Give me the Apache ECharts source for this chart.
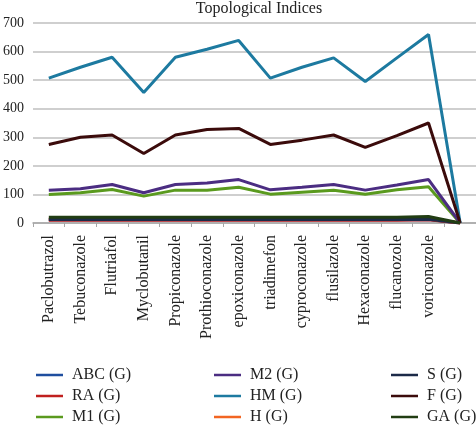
<!DOCTYPE html>
<html>
<head>
<meta charset="utf-8">
<script src="https://cdn.jsdelivr.net/npm/echarts@6/dist/echarts.min.js"></script>
<style>html,body{margin:0;padding:0;background:#fff}#c{width:476px;height:426px}</style>
</head>
<body>
<div id="c"></div>
<script>
const categories = ['Paclobutrazol','Tebuconazole','Flutriafol','Myclobutanil','Propiconazole','Prothioconazole','epoxiconazole','triadimefon','cyproconazole','flusilazole','Hexaconazole','flucanozole','voriconazole',''];
const ABC = [11,11,11,11,11,11,11,11,11,11,11,11,12,0];
const RA  = [10,10,10,10,10,10,10,10,10,10,10,10,11,0];
const M1  = [100,106,117,94,115,115,125,101,108,115,101,116,127,0];
const M2  = [115,120,135,106,135,140,152,116,125,135,115,133,152,0];
const HM  = [507,545,580,457,580,608,639,507,545,578,495,578,660,0];
const H   = [14,14,14,14,14,14,14,14,14,14,14,14,15,0];
const S   = [12,12,12,12,12,12,12,12,12,12,12,12,13,0];
const F   = [275,300,308,243,308,327,331,275,290,308,265,306,350,0];
const GA  = [20,20,20,20,20,20,20,20,20,20,20,20,23,0];
const yTicks = [0,100,200,300,400,500,600,700];

const seriesDefs = [
  ['ABC (G)', ABC, '#1f4e9f'],
  ['RA (G)', RA, '#c0201f'],
  ['M1 (G)', M1, '#5a9a1e'],
  ['M2 (G)', M2, '#4b2d82'],
  ['HM (G)', HM, '#1d7aa0'],
  ['H (G)', H, '#f26522'],
  ['S (G)', S, '#1c2a48'],
  ['F (G)', F, '#3b0b0b'],
  ['GA (G)', GA, '#213d13']
];
const font = 'Liberation Serif, Times New Roman, serif';
const chart = echarts.init(document.getElementById('c'));
const colLeft = [31, 209, 386];
const rowTop = [362, 383, 404];
const legends = seriesDefs.map(([n], i) => ({
  left: colLeft[Math.floor(i / 3)], top: rowTop[i % 3],
  itemWidth: 27, itemHeight: 16, itemGap: 0,
  icon: 'path://M0,7 L27,7 L27,9.5 L0,9.5 Z',
  data: [n],
  textStyle: {fontFamily: font, fontSize: 16, color: '#222', padding: [0, 0, 0, 4]}
}));
chart.setOption({
  animation: false,
  title: {text: 'Topological Indices', left: 254, textAlign: 'center', top: -4,
    textStyle: {fontFamily: font, fontSize: 16, fontWeight: 'normal', color: '#222'}},
  legend: legends,
  grid: {left: 33, right: 0, top: 23, bottom: 203},
  xAxis: {
    type: 'category', data: categories, boundaryGap: true,
    axisLine: {lineStyle: {color: '#a6a6a6', width: 1.5}},
    axisTick: {show: true, length: 4, lineStyle: {color: '#a6a6a6'}},
    axisLabel: {rotate: 90, interval: 0, fontFamily: font, fontSize: 16, color: '#222', margin: 12}
  },
  yAxis: {
    type: 'value', min: yTicks[0], max: yTicks[yTicks.length-1], interval: 100,
    axisLine: {show: false}, axisTick: {show: false},
    splitLine: {lineStyle: {color: '#bfbfbf', width: 1.5}},
    axisLabel: {fontFamily: font, fontSize: 14, color: '#222', margin: 9,
      formatter: v => yTicks.includes(v) ? String(v) : ''}
  },
  series: seriesDefs.map(([n, d, c]) => ({
    name: n, type: 'line', data: d, symbol: 'none', smooth: false,
    lineStyle: {color: c, width: 3}, itemStyle: {color: c}
  }))
});
</script>
</body>
</html>
